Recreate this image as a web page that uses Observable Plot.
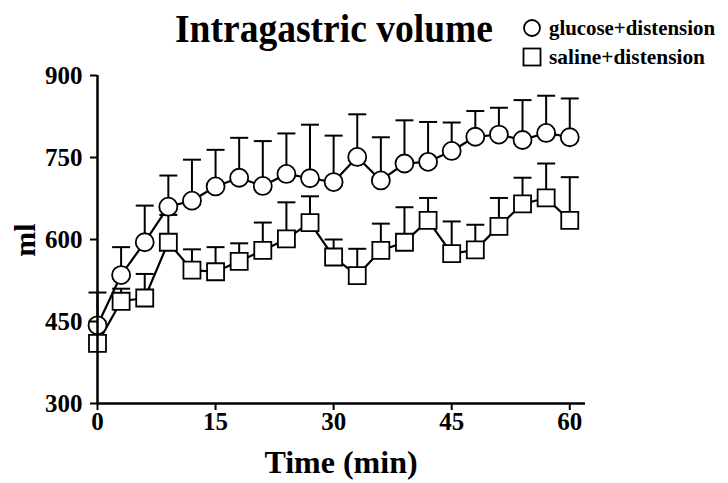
<!DOCTYPE html>
<html>
<head>
<meta charset="utf-8">
<script src="https://cdn.jsdelivr.net/npm/d3@7"></script>
<script src="https://cdn.jsdelivr.net/npm/@observablehq/plot@0.6"></script>
<style>
  html, body { margin: 0; padding: 0; background: #fff; }
  #chart { width: 728px; height: 483px; }
</style>
</head>
<body>
<div id="chart"></div>
<script>
// ---- data ----
const times = [0, 3, 6, 9, 12, 15, 18, 21, 24, 27, 30, 33, 36, 39, 42, 45, 48, 51, 54, 57, 60];
const glucose = [443, 535, 595, 660, 671, 697, 713, 698, 720, 712, 705, 751, 708, 739, 742, 762, 788, 792, 782, 795, 787];
const glucoseTop = [503, 586, 662, 717, 746, 764, 786, 780, 794, 810, 790, 829, 787, 818, 815, 814, 835, 841, 855, 863, 858];
const saline = [410, 487, 493, 595, 544, 541, 560, 580, 601, 631, 568, 534, 580, 595, 635, 574, 581, 624, 665, 676, 635];
const salineTop = [450, 510, 537, 645, 582, 586, 593, 631, 668, 679, 600, 583, 629, 659, 676, 633, 627, 676, 713, 739, 714];
const xTicks = [0, 15, 30, 45, 60];
const yTicks = [300, 450, 600, 750, 900];
const xDomain = [0, 62];
const yDomain = [300, 900];
const seriesNames = ["glucose+distension", "saline+distension"];
const titleText = "Intragastric volume";
const xLabel = "Time (min)";
const yLabel = "ml";

const gData = times.map((t, i) => ({t, v: glucose[i], top: glucoseTop[i]}));
const sData = times.map((t, i) => ({t, v: saline[i], top: salineTop[i]}));

// error-bar cap as a custom symbol (horizontal stroke)
const capSymbol = { draw(ctx) { ctx.moveTo(-9, 0); ctx.lineTo(9, 0); } };

const font = "'Liberation Serif', 'Times New Roman', serif";

const plot = Plot.plot({
  width: 728,
  height: 483,
  marginLeft: 97,
  marginRight: 143,
  marginTop: 75,
  marginBottom: 80,
  style: { fontFamily: font, fontWeight: "bold", fontSize: "25px", color: "#000", background: "#fff", overflow: "visible" },
  x: { domain: xDomain, label: null },
  y: { domain: yDomain, label: null },
  marks: [
    // error bars
    Plot.ruleX(sData, {x: "t", y1: "v", y2: "top", stroke: "#000", strokeWidth: 2}),
    Plot.dot(sData, {x: "t", y: "top", symbol: capSymbol, r: 5, stroke: "#000", strokeWidth: 2, fill: "none"}),
    Plot.ruleX(gData, {x: "t", y1: "v", y2: "top", stroke: "#000", strokeWidth: 2}),
    Plot.dot(gData, {x: "t", y: "top", symbol: capSymbol, r: 5, stroke: "#000", strokeWidth: 2, fill: "none"}),
    // lines
    Plot.line(sData, {x: "t", y: "v", stroke: "#000", strokeWidth: 2.2}),
    Plot.line(gData, {x: "t", y: "v", stroke: "#000", strokeWidth: 2.2}),
    // symbols
    Plot.dot(sData, {x: "t", y: "v", symbol: "square", r: 9.6, fill: "#fff", stroke: "#000", strokeWidth: 1.8}),
    Plot.dot(gData, {x: "t", y: "v", symbol: "circle", r: 9, fill: "#fff", stroke: "#000", strokeWidth: 1.8}),
    // axes
    Plot.axisY({ticks: yTicks, tickSize: 7, tickPadding: 8, strokeWidth: 2, fontSize: 25, tickFormat: d => String(d)}),
    Plot.axisX({ticks: xTicks, tickSize: 7, tickPadding: 2, strokeWidth: 2, fontSize: 25, tickFormat: d => String(d)}),
    Plot.ruleX([xDomain[0]], {y1: yDomain[0], y2: yDomain[1], stroke: "#000", strokeWidth: 2.5}),
    Plot.ruleY([yDomain[0]], {x1: xDomain[0], x2: xDomain[1], stroke: "#000", strokeWidth: 2.5})
  ]
});

document.getElementById("chart").appendChild(plot);

// titles and legend drawn into the same SVG
const svg = d3.select(plot);
function addText(x, y, size, str, anchor) {
  return svg.append("text").attr("x", x).attr("y", y).attr("font-size", size)
    .attr("font-weight", "bold").attr("font-family", font).attr("fill", "#000")
    .attr("text-anchor", anchor || "start").text(str);
}
addText(175, 42, 40, titleText, "start").attr("textLength", 318).attr("lengthAdjust", "spacingAndGlyphs");
addText(341, 473, 32, xLabel, "middle");
svg.append("text").attr("transform", "translate(35,240) rotate(-90)").attr("text-anchor", "middle")
  .attr("font-size", 30).attr("font-weight", "bold").attr("font-family", font).attr("fill", "#000").text(yLabel);

const leg = svg.append("g");
leg.append("circle").attr("cx", 532).attr("cy", 28).attr("r", 8).attr("fill", "#fff").attr("stroke", "#000").attr("stroke-width", 1.8);
leg.append("rect").attr("x", 523.5).attr("y", 48.5).attr("width", 17).attr("height", 17).attr("fill", "#fff").attr("stroke", "#000").attr("stroke-width", 1.8);
addText(549, 35, 22, seriesNames[0], "start").attr("textLength", 166).attr("lengthAdjust", "spacingAndGlyphs");
addText(549, 64, 22, seriesNames[1], "start").attr("textLength", 156).attr("lengthAdjust", "spacingAndGlyphs");
</script>
</body>
</html>
